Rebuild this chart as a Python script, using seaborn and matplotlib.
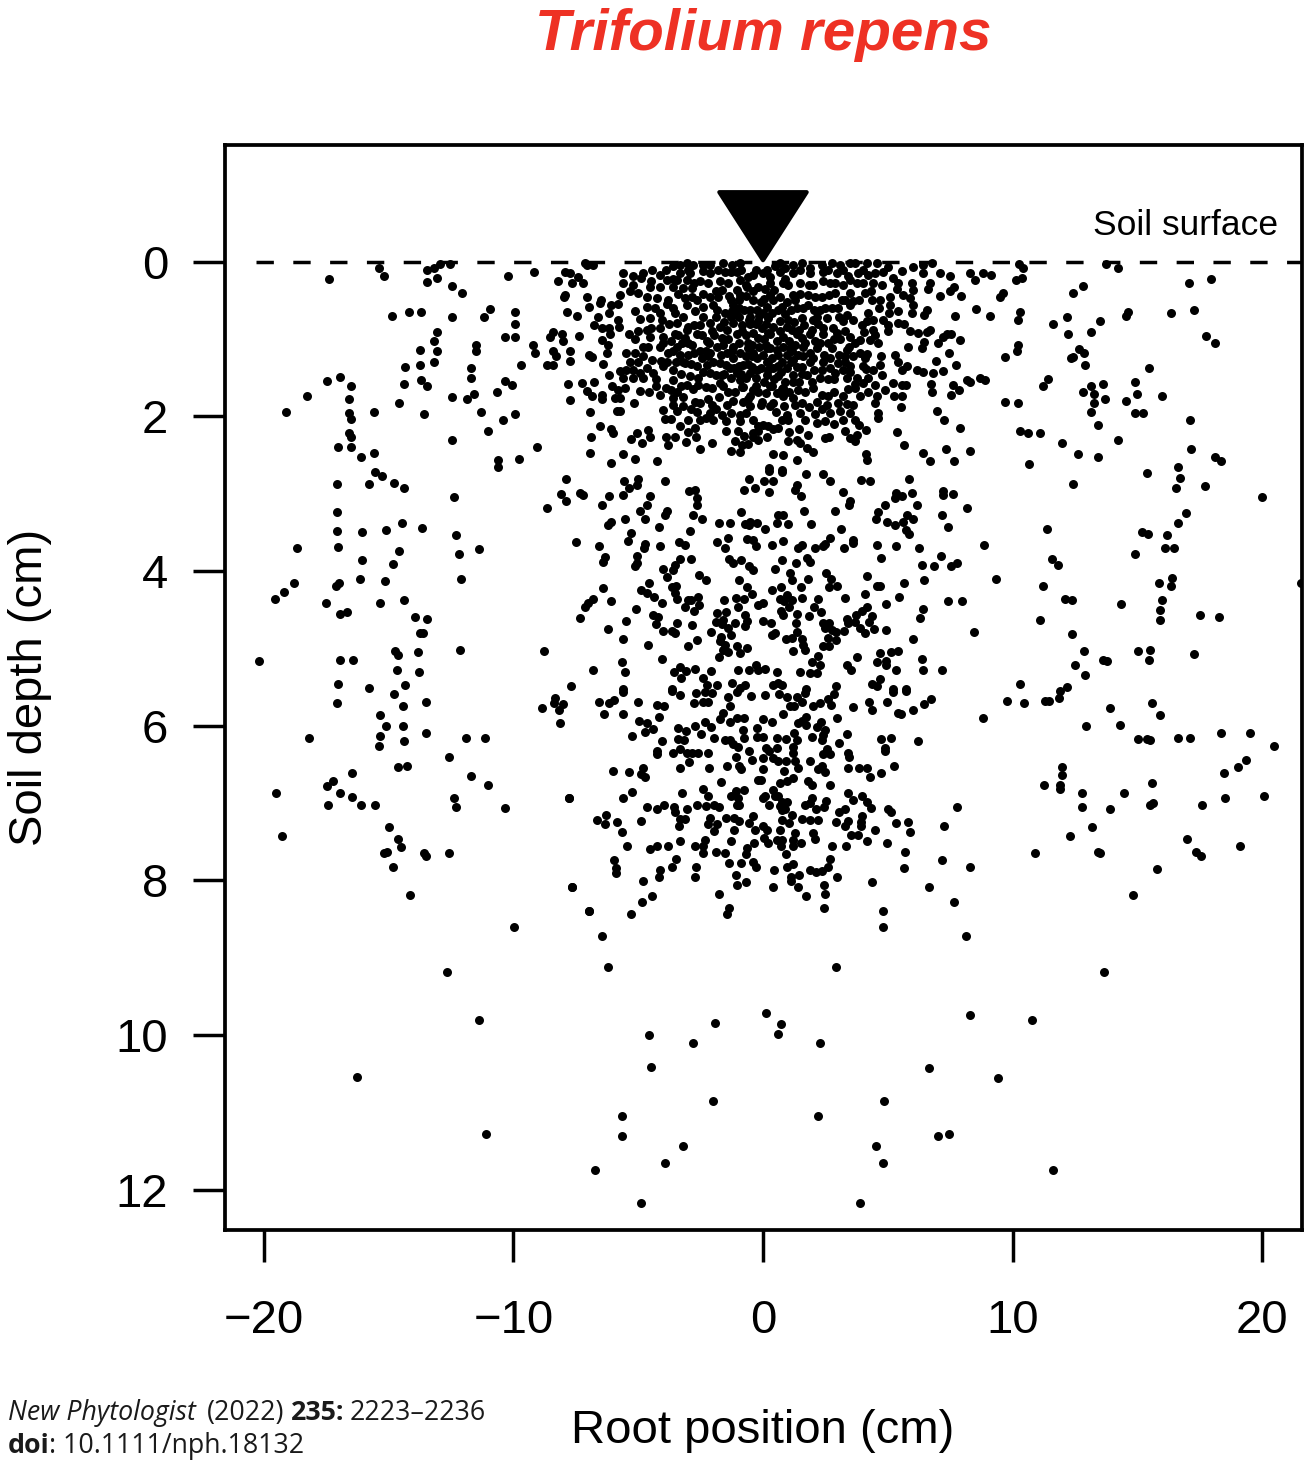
import pandas as pd
import seaborn as sns
import matplotlib.pyplot as plt

# all positions: (root position cm, soil depth cm)
upper_left = [(-7.07,0.04),(-6.80,0.04),(-3.60,0.06),(-3.33,0.04),(-3.06,0.02),(-2.79,0.04),(-2.39,0.04),(-2.13,0.04),(-1.59,0.02),(-1.26,0.04),(-0.92,0.02),(-7.14,0.02),
    (-7.94,0.13),(-7.74,0.15),(-5.60,0.15),(-4.80,0.15),(-4.46,0.10),(-4.13,0.17),(-3.33,0.15),(-2.93,0.15),(-2.13,0.15),(-1.53,0.13),(-1.06,0.13),(-0.39,0.17),(-7.40,0.20),(-8.21,0.25),(-7.67,0.27),(-7.23,0.27),(-5.60,0.28),(-5.20,0.19),(-4.87,0.21),(-3.86,0.23),(-3.46,0.23),(-3.06,0.23),(-2.53,0.25),(-1.73,0.25),(-0.92,0.23),
    (-4.53,0.32),(-4.13,0.32),(-3.60,0.32),(-3.19,0.34),(-2.86,0.34),(-1.66,0.36),(-1.06,0.36),(-0.66,0.32),(-5.73,0.43),(-5.33,0.38),(-5.0,0.41),(-4.66,0.45),(-4.26,0.47),(-3.80,0.49),(-7.94,0.43),(-7.98,0.46),(-7.06,0.45),(-6.51,0.49),(-3.13,0.47),(-2.66,0.49),(-2.13,0.45),(-0.92,0.43),
    (-6.98,0.59),(-6.53,0.53),(-6.11,0.56),(-5.80,0.55),(-7.84,0.65),(-7.46,0.70),(-6.16,0.66),(-5.13,0.64),(-4.33,0.60),(-3.60,0.60),(-3.06,0.56),(-2.73,0.64),(-2.0,0.56),(-1.26,0.64),(-1.53,0.66),(-1.06,0.69),(-0.52,0.62),(-4.13,0.66),(-3.53,0.66),(-0.52,0.71),
    (-6.60,0.72),(-5.81,0.75),(-6.76,0.82),(-6.47,0.85),(-6.16,0.85),(-5.77,0.84),(-4.91,0.74),(-4.53,0.73),(-4.06,0.75),(-3.46,0.79),(-2.99,0.84),(-2.53,0.82),(-2.13,0.79),(-1.73,0.84),(-1.19,0.79),(-0.52,0.81),(-4.66,0.88),(-4.13,0.86),(-0.19,0.77),
    (-8.41,0.91),(-8.54,0.97),(-8.06,0.94),(-8.03,1.02),(-7.38,0.96),(-6.47,1.01),(-6.13,0.94),(-5.36,0.93),(-5.13,1.0),(-4.53,0.97),(-4.0,0.97),(-3.53,0.94),(-3.13,0.99),(-2.66,0.94),(-2.26,1.03),(-1.66,0.99),(-1.06,0.94),(-0.59,1.05),(-6.20,1.07),(-4.13,1.10),(-4.80,1.10),(-3.46,1.10),(-2.86,1.07),(-1.19,1.10),(-1.86,1.10),
    (-8.41,1.16),(-8.30,1.22),(-7.74,1.16),(-7.74,1.28),(-6.96,1.20),(-6.87,1.23),(-6.27,1.18),(-5.49,1.18),(-5.13,1.18),(-4.80,1.22),(-3.80,1.18),(-3.33,1.20),(-2.53,1.16),(-2.13,1.18),(-1.46,1.18),(-0.92,1.18),(-0.39,1.18),(-8.65,1.33),(-8.41,1.33),(-6.40,1.32),(-5.33,1.29),(-4.46,1.27),(-3.86,1.29),(-3.13,1.31),(-2.66,1.35),(-2.26,1.33),(-1.73,1.31),(-1.33,1.38),(-0.79,1.33),
    (-5.73,1.41),(-6.17,1.46),(-5.60,1.50),(-5.20,1.40),(-4.93,1.44),(-4.66,1.38),(-4.0,1.35),(-3.60,1.40),(-2.93,1.48),(-2.59,1.50),(-2.13,1.44),(-1.66,1.46),(-1.06,1.44),(-0.52,1.44),(-5.20,1.50),(-4.80,1.50),(-3.60,1.53),(-3.06,1.59),(-2.59,1.59),(-1.73,1.57),(-0.92,1.53),
    (-7.83,1.58),(-7.27,1.57),(-6.76,1.55),(-6.07,1.60),(-5.80,1.66),(-5.53,1.63),(-7.07,1.67),(-6.87,1.73),(-6.47,1.72),(-4.93,1.67),(-4.58,1.68),(-4.28,1.61),(-3.89,1.63),(-4.12,1.72),(-3.46,1.68),(-2.06,1.63),(-1.59,1.61),(-1.12,1.68),(-0.39,1.66),(-0.52,1.74),(-7.74,1.79),(-6.47,1.78),(-5.93,1.76),(-5.73,1.76),(-3.60,1.76),
    (-5.16,1.82),(-3.60,1.85),(-3.19,1.87),(-2.73,1.81),(-2.53,1.82),(-2.06,1.85),(-1.46,1.85),(-0.79,1.81),(-6.92,1.94),(-5.87,1.93),(-5.73,1.93),(-4.02,1.92),(-3.46,1.93),(-2.66,1.94),(-2.13,1.96),(-1.66,1.98),(-0.92,1.98),(-0.52,1.87),
    (-3.93,2.03),(-3.70,2.03),(-2.99,2.04),(-2.53,2.04),(-2.02,2.05),(-0.92,2.06),(-0.39,2.04),(-3.33,2.13),(-2.73,2.15),(-6.53,2.13),(-6.11,2.16),(-6.03,2.22),(-5.03,2.22),(-4.62,2.18),(-1.49,2.19),(-0.99,2.19),(-0.39,2.22),(-0.19,2.19),
    (-6.90,2.26),(-5.27,2.29),(-4.53,2.26),(-3.89,2.26),(-3.53,2.27),(-2.70,2.26),(-1.12,2.32),(-4.84,2.34),(-3.80,2.37),(-3.09,2.33),(-2.03,2.34),(-0.39,2.26),(-0.86,2.37),
    (-6.94,2.47),(-5.61,2.48),(-2.53,2.42),(-1.28,2.45),(-0.91,2.46),(-5.13,2.55),(-4.25,2.57),(-6.11,2.60)]

upper_right = [(0.68,0.02),(1.22,0.04),(1.55,0.02),(2.35,0.04),(2.75,0.02),(3.09,0.04),(3.49,0.02),(3.69,0.02),(4.16,0.02),(4.56,0.02),(5.0,0.07),(6.0,0.07),(6.40,0.04),(6.76,0.01),(5.59,0.12),(6.43,0.14),(7.11,0.15),(8.28,0.14),(7.50,0.19),(7.67,0.32),(5.96,0.28),(6.03,0.36),(6.69,0.28),(6.63,0.35),(7.50,0.38),(7.11,0.44),(7.94,0.44),(8.52,0.61),(7.71,0.70),
    (0.15,0.10),(0.68,0.13),(1.22,0.15),(1.88,0.15),(2.42,0.13),(2.95,0.15),(3.42,0.19),(4.02,0.10),(4.22,0.17),(4.49,0.15),(4.82,0.13),(5.22,0.21),(5.42,0.28),(5.36,0.35),
    (0.28,0.28),(0.82,0.28),(1.48,0.28),(2.02,0.30),(2.69,0.28),(3.22,0.30),(3.75,0.28),(4.42,0.28),(4.76,0.30),(5.62,0.43),(5.89,0.47),(5.09,0.45),(4.69,0.49),(4.09,0.41),(4.33,0.38),
    (0.28,0.43),(0.68,0.45),(1.22,0.43),(1.82,0.43),(2.35,0.46),(2.89,0.41),(3.49,0.41),(3.15,0.49),(3.62,0.51),
    (0.15,0.58),(0.75,0.58),(1.35,0.60),(1.82,0.56),(2.28,0.62),(2.75,0.60),(3.35,0.69),(3.49,0.56),(5.09,0.56),(4.66,0.60),(5.42,0.64),(5.06,0.66),(6.03,0.56),(5.96,0.66),(6.56,0.62),(6.45,0.69),
    (0.21,0.73),(0.68,0.77),(1.15,0.88),(1.55,0.73),(2.02,0.75),(2.55,0.73),(3.22,0.77),(4.20,0.66),(4.16,0.77),(4.42,0.75),(4.80,0.75),(5.02,0.82),(5.42,0.79),(5.65,0.81),(4.42,0.88),(4.06,0.91),(5.02,0.90),(5.89,0.90),(6.23,0.92),(6.69,0.88),(6.56,0.91),
    (7.36,0.94),(7.20,0.97),(7.52,0.94),(7.90,1.01),(7.03,1.05),(6.45,1.04),(6.39,1.12),(5.81,1.10),(7.44,1.18),(6.93,1.28),(7.72,1.34),(7.23,1.41),
    (0.28,0.94),(0.82,0.97),(1.35,0.94),(1.88,0.94),(2.42,0.94),(2.95,0.92),(3.49,0.97),(3.89,1.01),(4.29,1.01),(4.62,1.05),
    (0.15,1.12),(0.55,1.14),(1.08,1.12),(1.62,1.10),(2.15,1.12),(2.75,1.12),(3.35,1.14),(3.89,1.18),(4.18,1.19),(3.29,1.22),
    (0.21,1.29),(0.75,1.29),(1.22,1.27),(1.88,1.29),(2.42,1.29),(3.02,1.31),(3.49,1.35),(4.13,1.39),(4.72,1.22),(4.69,1.33),(4.76,1.46),(5.29,1.20),(5.42,1.29),(5.56,1.40),(5.22,1.57),(5.76,1.35),(6.16,1.40),(6.43,1.42),(6.80,1.44),
    (0.15,1.46),(0.61,1.48),(1.22,1.46),(1.75,1.46),(2.28,1.50),(2.89,1.44),(3.75,1.50),(4.02,1.57),(4.49,1.59),(4.89,1.66),(5.72,1.59),(5.56,1.59),(6.72,1.58),(6.77,1.69),(7.60,1.59),(7.52,1.72),(7.87,1.66),(8.16,1.53),(8.30,1.55),(8.70,1.50),
    (0.28,1.61),(0.82,1.63),(1.42,1.66),(2.02,1.63),(2.62,1.74),(3.22,1.73),(3.69,1.63),(3.35,1.84),(3.89,1.74),(4.56,1.74),(4.49,1.82),(5.25,1.73),(5.56,1.73),(5.53,1.88),
    (-0.05,1.81),(0.41,1.82),(0.82,1.74),(1.22,1.76),(1.55,1.83),(2.15,1.81),(0.51,1.94),(0.95,1.98),(0.75,2.04),(1.48,1.96),(2.08,1.97),(2.35,1.91),(2.69,1.96),(3.09,1.93),(3.49,1.96),(3.22,2.04),(4.62,1.96),(4.62,2.02),
    (6.96,1.93),(7.26,2.04),(7.91,2.15),(5.36,2.20),(5.67,2.37),(6.43,2.47),(7.34,2.42),(8.31,2.45),(6.69,2.57),(7.67,2.57),
    (2.18,2.08),(2.49,2.06),(3.69,2.04),(3.86,2.11),(4.13,2.17),(3.29,2.19),(3.75,2.24),(3.69,2.32),(3.49,2.28),(2.49,2.28),(2.66,2.26),
    (0.01,2.11),(0.21,2.13),(0.41,2.16),(0.15,2.26),(1.06,2.20),(1.46,2.16),(1.35,2.30),(1.82,2.24),(1.48,2.34),(1.75,2.41),(2.02,2.46),
    (0.41,2.48),(0.82,2.50),(1.38,2.56),(4.13,2.48),(4.16,2.56),(0.25,2.67),(0.75,2.69)]

# the near solid core around the plant, estimated
core = [(-0.9,0.1),(-0.6,0.2),(-0.3,0.1),(0.0,0.15),(0.3,0.2),(0.5,0.05),(0.9,0.22),(-0.7,0.3),(-0.2,0.33),(0.1,0.35),(0.45,0.36),(-0.95,0.5),(-0.4,0.5),(-0.1,0.52),(0.05,0.48),(0.42,0.5),(0.95,0.52),(1.3,0.5),(-1.3,0.5),(-0.75,0.62),(-0.25,0.63),(0.0,0.66),(0.35,0.66),(0.9,0.68),(-0.85,0.82),(-0.3,0.8),(-0.05,0.85),(0.12,0.8),(0.4,0.84),(0.95,0.84),(1.25,0.78),(-0.7,0.95),(-0.2,0.98),(0.05,1.0),(0.55,1.02),(1.05,1.02),(-0.95,1.05),(-0.45,1.08),(-0.15,1.1),(0.3,1.12),(0.8,1.1),(1.3,1.08),(-0.7,1.22),(-0.25,1.24),(0.0,1.2),(0.38,1.24),(0.95,1.2),(-0.95,1.35),(-0.45,1.36),(-0.1,1.38),(0.4,1.38),(0.95,1.38),(1.35,1.36),(-0.7,1.5),(-0.3,1.5),(0.05,1.55),(0.45,1.52),(0.9,1.55),(-0.85,1.62),(-0.2,1.68),(0.12,1.7),(0.55,1.7),(1.05,1.68),(-0.6,1.78),(-0.1,1.85),(0.3,1.86),(0.85,1.86),
    (-3.9,0.1),(-3.0,0.1),(-2.4,0.12),(-1.8,0.1),(-1.3,0.13),(-3.6,0.22),(-2.75,0.27),(-2.2,0.28),(-1.4,0.28),(-4.5,0.25),(-5.2,0.3),(-3.4,0.42),(-2.4,0.42),(-1.8,0.46),(-1.35,0.44),(-0.7,0.44),(-4.65,0.58),(-3.85,0.55),(-2.4,0.58),(-1.85,0.62),(-0.95,0.6),(-4.5,0.85),(-3.75,0.8),(-3.2,0.72),(-2.4,0.72),(-1.55,0.78),(-0.95,0.72),(-5.0,0.9),(-4.0,1.05),(-3.7,1.02),(-3.0,1.05),(-2.45,0.95),(-1.95,0.95),(-1.4,1.0),(-4.6,1.1),(-3.6,1.16),(-3.0,1.2),(-2.3,1.15),(-1.7,1.2),(-1.2,1.25),(-5.0,1.3),(-4.1,1.28),(-3.5,1.3),(-2.9,1.32),(-2.0,1.3),(-1.5,1.33),(-0.6,1.32),(-5.5,1.4),(-4.4,1.44),(-3.3,1.45),(-2.4,1.42),(-1.9,1.47),(-1.3,1.5),(-0.9,1.45),(-4.3,1.52),(-3.3,1.6),(-2.8,1.65),(-2.3,1.62),(-1.4,1.68),(-0.8,1.62),(-3.7,1.66),(-3.2,1.75),(-2.2,1.78),(-1.75,1.75),(-1.2,1.8),(-2.9,1.9),(-1.9,1.9),(-1.3,1.95),(-2.3,2.02),(-1.5,2.06),(-0.7,1.95),(-3.0,2.2),(-0.75,2.25),(-0.2,2.12),(-0.6,2.36),
    (0.9,0.08),(1.5,0.1),(1.9,0.08),(2.6,0.1),(3.2,0.1),(3.8,0.15),(1.0,0.3),(1.85,0.3),(2.4,0.25),(2.9,0.27),(3.5,0.24),(4.0,0.28),(1.5,0.42),(2.1,0.45),(2.65,0.43),(3.3,0.5),(3.85,0.5),(4.35,0.5),(1.6,0.6),(2.05,0.62),(2.5,0.6),(3.0,0.6),(1.65,0.82),(2.2,0.8),(2.8,0.85),(3.6,0.75),(3.95,0.82),(4.5,0.95),(1.55,0.98),(2.1,1.02),(2.6,1.05),(3.1,1.0),(3.7,1.05),(1.4,1.2),(1.9,1.18),(2.45,1.2),(3.05,1.2),(3.6,1.22),(4.1,1.25),(1.55,1.36),(2.05,1.4),(2.7,1.38),(3.2,1.4),(4.0,1.35),(4.4,1.4),(1.45,1.55),(1.95,1.55),(2.6,1.52),(3.35,1.5),(3.7,1.58),(4.2,1.5),(1.7,1.68),(2.35,1.72),(2.85,1.68),(3.4,1.65),(4.2,1.68),(1.3,1.85),(1.85,1.88),(2.55,1.85),(3.0,1.82),(3.6,1.85),(1.0,2.05),(1.7,2.05),(2.85,2.1),(0.6,2.15),(1.0,2.32),(-0.2,2.3),
    (-0.55,0.75),(-0.15,0.7),(0.22,0.72),(0.62,0.62),(1.12,0.62),(-1.45,0.88),(-0.85,0.9),(-0.42,0.92),(0.2,0.92),(0.7,0.9),(1.45,0.88),(-1.6,1.08),(-0.6,1.12),(0.12,1.08),(0.6,1.2),(1.15,1.15),(1.7,1.05),(-2.2,1.22),(-0.45,1.22),(0.18,1.3),(0.62,1.35),(1.12,1.3),(1.6,1.22),(-1.15,1.38),(-0.25,1.4),(0.22,1.4),(0.72,1.42),(1.55,1.45),(-2.75,0.82),(-2.05,0.9),(-3.4,0.95),(-2.75,1.18),(-3.25,1.05),(-2.15,1.05),(-1.25,1.15),(-3.05,0.88),(-2.45,1.25),(-3.2,1.3),(-1.55,1.45),(-0.3,1.6),(0.35,1.6),(0.75,1.65),(1.2,1.55),(2.3,1.05),(2.85,1.0),(2.0,1.25),(2.7,1.25),(3.3,1.3),(2.35,1.4),(3.5,1.42),(2.85,1.52),(1.95,0.88),(2.4,0.85),(3.3,0.9),(3.45,1.1),(3.05,0.72),(2.15,0.72),(1.0,0.75),(-1.9,0.72),(-1.3,0.72),(-2.85,0.45),(-1.9,0.38),(-1.2,0.56),(-0.4,0.38)]

middle_left = [(-7.88,2.81),(-8.11,3.0),(-7.91,3.09),(-7.34,2.99),(-7.23,3.01),(-8.65,3.19),(-5.56,2.84),(-5.01,2.81),(-5.36,2.92),(-5.05,2.89),(-5.63,3.01),(-6.19,3.03),(-6.44,3.14),(-4.53,3.03),(-4.64,3.14),(-4.93,3.22),(-4.72,3.32),(-5.52,3.32),(-6.08,3.37),(-6.21,3.41),(-3.93,2.84),(-2.95,2.96),(-2.73,2.95),(-2.66,3.06),(-2.63,3.14),(-3.84,3.22),(-3.93,3.27),(-2.81,3.28),(-2.46,3.33),(-4.16,3.43),(-2.93,3.48),(-5.27,3.51),(-5.43,3.61),(-7.48,3.63),(-6.59,3.67),(-4.74,3.65),(-4.77,3.70),(-4.13,3.67),(-3.38,3.62),(-3.13,3.66),(-6.33,3.82),(-6.40,3.88),(-5.04,3.81),(-5.04,3.90),(-5.12,3.94),(-3.33,3.84),(-2.87,3.84),(-3.53,3.92),(-3.60,3.99),(-4.01,3.97),(-3.86,4.08),(-2.58,4.05),(-2.30,4.12),(-1.83,3.62),(-1.41,3.57),(-1.54,3.70),(-1.75,3.38),(-1.31,3.38),(-0.88,3.24),(-0.56,2.81),(-0.78,2.95),(-0.32,2.92),(-0.72,3.39),(-0.52,3.36),(-0.26,3.38),(-0.56,3.40),(-0.63,3.59),(-0.39,3.60),(-0.28,3.67),(-1.35,3.84),(-1.22,3.90),(-0.88,3.85),(-0.55,3.94),(-0.39,3.98),(-0.96,4.12),
    (-6.43,4.22),(-6.83,4.36),(-7.0,4.41),(-7.12,4.46),(-6.11,4.39),(-4.56,4.16),(-4.87,4.24),(-4.64,4.28),(-4.37,4.33),(-4.04,4.41),(-5.07,4.49),(-3.66,4.20),(-3.50,4.19),(-3.53,4.28),(-3.44,4.36),(-3.02,4.37),(-2.90,4.38),(-2.59,4.33),(-2.55,4.44),(-3.14,4.47),(-2.78,4.51),(-1.57,4.37),(-1.10,4.35),(-0.76,4.36),(-0.46,4.30),(-0.63,4.20),(-0.99,4.46),(-0.19,4.44),(-1.85,4.54),(-1.49,4.53),(-7.32,4.61),(-4.42,4.57),(-4.20,4.59),(-4.29,4.68),(-5.49,4.65),(-6.21,4.75),(-3.45,4.67),(-2.86,4.70),(-0.72,4.57),(-0.66,4.65),(-0.72,4.71),(-1.11,4.67),(-1.87,4.66),(-1.62,4.63),(-1.66,4.69),(-1.42,4.74),(-1.30,4.82),(-1.69,4.85),(-2.10,4.79),(-4.02,4.77),(-3.65,4.78),(-3.53,4.80),(-5.63,4.88),(-4.61,4.95),(-3.01,4.97),(-2.66,4.89),(-1.73,4.90),(-1.53,4.95),(-1.62,5.02),(-1.39,5.04),(-1.77,5.11),(-1.03,4.97),(-0.66,5.0),(-0.92,5.06),(-8.78,5.03),(-5.67,5.17),(-4.04,5.14),(-6.83,5.28),(-5.52,5.31),(-3.56,5.30),(-3.33,5.24),(-3.10,5.29),(-2.73,5.27),(-3.30,5.38),(-2.10,5.29),(-1.0,5.28),(-0.56,5.28),(-0.28,5.21),(-0.19,5.28),(-7.70,5.48),(-2.39,5.38),(-2.26,5.47),(-1.86,5.47),(-1.26,5.45),(-0.72,5.47),(-0.92,5.51),(-3.66,5.52),(-5.60,5.53)]

middle_right = [(0.25,2.70),(0.75,2.72),(0.03,2.83),(0.41,2.83),(1.72,2.75),(2.39,2.75),(2.70,2.84),(3.91,2.82),(4.29,2.83),(5.87,2.81),(1.36,2.89),(1.30,2.95),(1.51,3.03),(0.23,2.98),(3.22,2.98),(3.49,3.09),(3.43,3.15),(5.33,2.99),(5.29,3.06),(5.59,3.03),(5.96,2.99),(4.88,3.14),(6.19,3.14),(7.20,2.97),(7.23,3.02),(7.62,3.0),(8.16,3.19),(7.16,3.27),(7.41,3.43),(1.63,3.22),(2.89,3.22),(0.61,3.27),(0.82,3.28),(0.55,3.38),(1.02,3.39),(1.91,3.39),(0.07,3.46),(4.62,3.23),(4.52,3.33),(4.98,3.37),(5.28,3.41),(5.76,3.27),(5.62,3.36),(6.0,3.32),(5.73,3.47),(5.84,3.52),(3.13,3.46),(0.36,3.66),(0.80,3.61),(1.55,3.66),(1.42,3.70),(2.10,3.70),(2.69,3.57),(2.49,3.65),(2.42,3.68),(3.25,3.70),(3.62,3.60),(3.62,3.64),(4.58,3.66),(5.33,3.67),(6.27,3.70),(4.74,3.83),(7.15,3.81),(0.78,3.85),(0.47,3.97),(1.34,3.90),(1.75,3.83),(1.88,3.88),(6.36,3.92),(6.87,3.94),(7.76,3.90),(7.54,3.94),
    (1.08,4.03),(1.16,4.12),(1.79,4.10),(2.54,4.03),(2.71,4.10),(2.95,4.19),(2.66,4.21),(4.16,4.06),(4.56,4.19),(4.69,4.19),(5.64,4.16),(6.45,4.12),(0.36,4.24),(0.72,4.20),(1.51,4.20),(-0.01,4.41),(0.95,4.31),(0.68,4.36),(1.16,4.37),(0.84,4.39),(1.06,4.46),(1.58,4.35),(2.22,4.36),(2.04,4.46),(2.31,4.53),(1.84,4.58),(3.30,4.35),(4.09,4.29),(5.45,4.33),(4.93,4.42),(7.43,4.39),(7.98,4.39),(6.43,4.49),(6.29,4.61),(0.71,4.52),(0.79,4.57),(1.35,4.56),(1.31,4.67),(-0.01,4.65),(0.32,4.67),(4.18,4.47),(3.95,4.52),(3.73,4.57),(4.37,4.58),(4.26,4.66),(3.38,4.62),(3.42,4.67),(3.69,4.66),(3.89,4.74),(4.09,4.80),(4.45,4.75),(4.93,4.76),(8.46,4.79),(6.03,4.88),(2.42,4.67),(2.66,4.67),(2.49,4.74),(2.93,4.79),(2.75,4.76),(3.26,4.78),(2.62,4.87),(2.93,4.89),(2.65,4.97),(2.42,4.97),(1.38,4.79),(1.15,4.86),(0.92,4.88),(1.55,4.88),(1.62,4.95),(1.68,5.02),(0.48,4.80),(0.35,4.82),(1.19,5.03),(2.22,5.10),(1.95,5.18),(2.28,5.22),(3.77,5.11),(4.69,5.06),(4.56,5.18),(4.93,5.16),(4.93,5.22),(5.12,5.04),(5.40,5.03),(6.37,5.14),(3.38,5.21),(3.51,5.28),(5.32,5.28),(6.43,5.28),(7.17,5.28),(0.07,5.26),(0.57,5.31),(1.50,5.30),(1.88,5.32),(2.15,5.32),(4.70,5.39),(4.38,5.46),(4.56,5.48),(0.41,5.47),(0.61,5.45),(0.75,5.47),(2.94,5.49),(1.71,5.53),(5.22,5.53),(5.73,5.52)]

lower_left = [(-8.34,5.64),(-8.38,5.71),(-8.0,5.72),(-8.17,5.79),(-8.86,5.77),(-8.13,5.97),(-6.56,5.69),(-6.17,5.70),(-5.97,5.67),(-6.39,5.85),(-5.61,5.85),(-5.0,5.69),(-5.60,5.56),(-4.26,5.73),(-3.97,5.74),(-4.16,5.89),(-4.97,5.94),(-4.64,5.96),(-4.42,6.04),(-4.74,6.08),(-5.23,6.13),(-4.06,6.20),(-4.24,6.33),(-4.26,6.36),(-3.66,5.55),(-3.33,5.60),(-2.70,5.57),(-2.33,5.56),(-2.03,5.58),(-2.75,5.70),(-2.39,5.69),(-2.19,5.69),(-1.39,5.63),(-1.06,5.56),(-0.50,5.62),(-1.32,5.75),(-1.62,5.84),(-1.71,5.91),(-1.32,5.95),(-1.03,5.90),(-0.76,5.90),(-3.42,6.03),(-3.10,6.07),(-2.71,6.0),(-2.33,5.95),(-2.10,6.02),(-2.50,6.10),(-0.79,6.05),(-0.76,6.16),(-0.25,6.03),(-0.23,6.14),(-3.42,6.17),(-3.17,6.18),(-1.97,6.16),(-1.53,6.18),(-1.32,6.18),(-1.22,6.23),(-0.99,6.28),(-3.60,6.35),(-3.34,6.30),(-3.06,6.35),(-2.86,6.35),(-2.59,6.35),(-2.21,6.35),(-0.56,6.33),(-1.10,6.40),(-0.44,6.44),(-2.98,6.47),(-3.34,6.55),(-2.18,6.54),(-1.46,6.52),(-0.96,6.52),(-0.88,6.56),(-6.0,6.59),(-5.39,6.60),(-4.80,6.54),(-4.87,6.62),(-4.73,6.66),(-1.67,6.73),(-0.19,6.70),(-5.24,6.85),(-5.61,6.94),(-7.76,6.94),(-3.26,6.87),(-2.39,6.82),(-2.19,6.91),(-0.76,6.83),(-1.08,6.84),(-1.28,6.91),(-0.99,6.94),(-0.95,7.02),(-1.06,7.03),(-4.66,7.05),(-4.24,7.08),(-3.97,7.02),(-3.56,7.05),(-3.54,7.12),(-3.05,7.07),(-2.63,7.03),(-2.27,7.04),(-1.97,7.03),(-1.77,7.05),(-6.66,7.22),(-6.31,7.16),(-6.35,7.27),(-5.84,7.24),(-5.65,7.37),(-4.88,7.23),(-3.11,7.21),(-3.33,7.21),(-3.38,7.29),(-2.11,7.19),(-2.21,7.27),(-1.85,7.27),(-1.98,7.36),(-1.50,7.19),(-1.15,7.19),(-0.96,7.23),(-1.16,7.35),(-0.42,7.17),(-0.55,7.26),(-0.32,7.35),(-5.44,7.56),(-4.54,7.59),(-4.25,7.56),(-3.80,7.55),(-3.34,7.49),(-2.74,7.55),(-2.31,7.48),(-2.42,7.56),(-2.39,7.65),(-1.89,7.63),(-1.53,7.65),(-1.30,7.49),(-0.36,7.52),(-0.66,7.58),(-0.70,7.66),(-5.99,7.74),(-5.89,7.84),(-5.88,7.90),(-3.50,7.72),(-3.66,7.82),(-4.13,7.86),(-4.16,7.96),(-2.69,7.82),(-2.73,7.96),(-1.38,7.77),(-0.88,7.77),(-0.39,7.76),(-0.28,7.82),(-1.10,7.93),(-1.06,8.06),(-0.67,8.02),(-7.66,8.09),(-4.81,8.01),(-4.46,8.20),(-4.83,8.28),(-1.78,8.18),(-6.99,8.40),(-5.29,8.44),(-1.37,8.35),(-1.45,8.44)]

lower_right = [(0.07,5.60),(0.65,5.59),(0.98,5.63),(1.35,5.63),(1.68,5.58),(1.55,5.69),(1.08,5.74),(1.24,5.74),(2.02,5.74),(2.28,5.70),(2.62,5.65),(2.85,5.59),(2.73,5.73),(3.59,5.76),(4.25,5.69),(4.37,5.80),(4.98,5.69),(5.20,5.56),(5.73,5.55),(6.75,5.65),(6.47,5.72),(6.01,5.79),(5.42,5.83),(5.52,5.85),(0.80,5.85),(2.98,5.90),(-0.01,5.91),(0.36,5.95),(1.72,5.88),(1.55,5.94),(1.42,5.97),(1.72,5.99),(2.32,5.95),(2.15,6.02),(2.49,6.06),(2.42,6.12),(2.35,6.18),(3.38,6.11),(3.06,6.22),(1.24,6.09),(1.35,6.18),(0.01,6.15),(0.56,6.16),(0.92,6.17),(1.95,6.15),(4.73,6.17),(5.12,6.16),(4.89,6.29),(4.90,6.33),(6.20,6.20),(0.12,6.29),(0.25,6.33),(0.57,6.29),(1.22,6.27),(1.19,6.35),(2.55,6.30),(2.42,6.36),(2.69,6.36),(3.42,6.35),(3.46,6.41),(-0.01,6.42),(0.41,6.42),(0.61,6.45),(0.92,6.46),(1.28,6.45),(1.90,6.45),(5.25,6.52),(-0.01,6.56),(0.83,6.59),(1.40,6.55),(2.35,6.52),(2.22,6.56),(2.50,6.60),(3.42,6.54),(3.86,6.55),(4.18,6.55),(4.29,6.66),(4.73,6.61),(1.22,6.68),(0.95,6.71),(0.68,6.74),(1.82,6.71),(1.98,6.76),(2.69,6.76),(-0.08,6.70),(0.41,6.83),(0.61,6.91),(0.48,6.91),(0.08,6.91),(-0.01,6.94),(0.75,6.98),(0.95,6.98),(0.25,7.03),(0.68,7.04),(0.88,7.07),(0.75,7.09),(1.68,7.03),(1.95,6.94),(1.88,7.0),(2.11,7.07),(2.53,6.97),(2.46,7.05),(3.41,6.87),(3.61,6.96),(3.95,6.91),(4.16,6.99),(4.34,7.06),(5.02,7.07),(5.13,7.12),(7.76,7.05),(3.29,7.07),(3.06,7.11),(1.15,7.16),(0.78,7.22),(1.06,7.26),(1.55,7.21),(1.88,7.22),(2.22,7.22),(2.93,7.24),(3.42,7.23),(3.29,7.29),(3.98,7.17),(3.93,7.24),(3.91,7.30),(5.33,7.26),(5.81,7.25),(5.88,7.37),(7.25,7.30),(4.49,7.35),(3.53,7.41),(3.81,7.41),(4.17,7.49),(3.31,7.55),(4.98,7.51),(-0.01,7.30),(0.15,7.35),(0.70,7.35),(1.28,7.38),(1.99,7.38),(2.08,7.46),(0.04,7.45),(0.21,7.52),(0.55,7.48),(0.78,7.48),(0.71,7.56),(1.22,7.48),(1.22,7.55),(1.54,7.51),(2.75,7.56),(0.94,7.66),(5.69,7.63),(2.67,7.72),(2.62,7.83),(2.35,7.88),(2.12,7.89),(1.88,7.86),(1.22,7.79),(0.95,7.83),(0.44,7.87),(1.43,7.93),(1.11,7.96),(1.12,8.01),(1.40,8.08),(0.39,8.08),(2.95,7.96),(2.46,8.06),(2.49,8.18),(1.71,8.20),(4.37,8.02),(5.64,7.84),(7.16,7.74),(8.30,7.83),(6.67,8.09),(7.67,8.28),(2.45,8.36),(4.81,8.40),(4.81,8.60),(8.14,8.72),(8.82,5.90),(9.34,4.10),(8.86,3.66)]

far_left = [(-17.4,0.22),(-15.4,0.08),(-15.2,0.18),(-14.87,0.70),(-13.7,0.65),(-13.47,0.10),(-13.19,0.08),(-12.95,0.03),(-12.55,0.03),(-13.47,0.26),(-13.07,0.21),(-12.47,0.31),(-12.06,0.41),(-12.47,0.72),(-14.19,0.65),(-13.07,0.91),(-10.22,0.18),(-9.18,0.13),(-10.94,0.61),(-11.18,0.72),(-9.94,0.65),(-9.94,0.80),(-9.94,0.97),(-10.34,0.97),(-11.5,1.07),(-11.5,1.16),(-13.2,1.03),(-13.75,1.14),(-13.07,1.16),(-13.2,1.29),(-13.75,1.34),(-14.35,1.36),(-11.7,1.37),(-11.7,1.5),(-9.2,1.07),(-9.14,1.18),(-9.7,1.33),(-17.47,1.54),(-16.95,1.49),(-16.5,1.6),(-16.6,1.78),(-16.6,1.95),(-18.28,1.73),(-19.1,1.94),(-15.6,1.94),(-14.6,1.82),(-14.4,1.58),(-13.7,1.53),(-13.47,1.6),(-13.6,1.97),(-12.47,1.75),(-11.86,1.77),(-11.58,1.71),(-11.3,1.94),(-10.66,1.69),(-10.34,1.54),(-10.06,1.59),(-9.94,1.97),(-10.42,2.04),(-11.02,2.19),(-12.47,2.31),(-16.5,2.03),(-16.5,2.26),(-16.6,2.21),(-17.03,2.4),(-16.5,2.39),(-16.1,2.53),(-15.6,2.47),(-15.55,2.72),(-15.8,2.88),(-15.27,2.77),(-14.8,2.86),(-14.4,2.92),(-17.07,2.88),(-10.62,2.56),(-10.62,2.65),(-9.78,2.55),(-9.06,2.4),(-12.39,3.04),
    (-17.07,3.23),(-17.07,3.48),(-16.07,3.49),(-15.11,3.47),(-14.47,3.38),(-13.67,3.44),(-12.3,3.53),(-12.18,3.78),(-11.38,3.71),(-14.59,3.74),(-18.68,3.7),(-17.03,3.69),(-16.07,3.85),(-14.83,3.91),(-16.99,4.16),(-17.11,4.19),(-16.15,4.1),(-15.15,4.13),(-18.8,4.16),(-19.2,4.27),(-19.56,4.36),(-12.1,4.1),(-17.52,4.41),(-15.35,4.41),(-14.39,4.37),(-16.95,4.56),(-16.67,4.53),(-13.95,4.59),(-13.47,4.62),(-13.75,4.8),(-13.62,4.8),(-13.83,5.04),(-14.75,5.03),(-14.63,5.09),(-12.14,5.02),(-20.2,5.16),(-16.95,5.15),(-16.43,5.15),
    (-14.67,5.28),(-13.79,5.3),(-17.03,5.46),(-15.79,5.51),(-14.35,5.47),(-14.79,5.59),(-13.51,5.69),(-17.07,5.7),(-15.35,5.86),(-14.43,5.75),(-15.11,6.0),(-15.35,6.13),(-14.43,6.0),(-14.39,6.2),(-13.51,6.09),(-15.39,6.26),(-18.2,6.16),(-11.9,6.16),(-11.14,6.16),(-12.59,6.4),(-14.63,6.53),(-14.27,6.52),(-16.47,6.61),(-17.47,6.78),(-17.23,6.72),(-16.95,6.87),(-17.43,7.03),(-16.47,6.92),(-16.11,7.03),(-15.55,7.03),(-19.52,6.87),(-11.7,6.65),(-11.02,6.76),(-12.39,6.94),(-12.3,7.05),(-10.34,7.06),(-7.78,6.93),(-19.28,7.42),(-14.99,7.31),(-14.63,7.46),(-14.51,7.57),(-15.19,7.64),(-15.07,7.63),(-14.83,7.82),(-13.59,7.64),(-13.51,7.68),(-12.59,7.64),(-14.15,8.19),(-7.66,8.08),(-6.97,8.39),(-6.45,8.72),(-9.98,8.6),(-6.21,9.12),(-12.67,9.19),(-11.38,9.8),(-16.27,10.54),(-11.1,11.28)]

far_right = [(8.82,0.14),(9.14,0.17),(9.5,0.45),(9.62,0.41),(8.5,0.23),(10.26,0.03),(10.42,0.08),(10.14,0.23),(10.38,0.21),(13.75,0.03),(14.23,0.08),(12.83,0.31),(12.42,0.4),(17.07,0.27),(17.96,0.22),(10.3,0.65),(10.22,0.75),(9.1,0.7),(14.63,0.65),(14.55,0.7),(16.35,0.66),(17.27,0.63),(12.18,0.72),(11.62,0.8),(13.51,0.76),(13.15,0.91),(12.22,0.94),(17.76,0.96),(18.12,1.05),(10.22,1.07),(10.18,1.16),(9.7,1.23),(12.67,1.13),(12.34,1.24),(12.87,1.18),(12.42,1.23),(11.42,1.51),(11.22,1.6),(12.91,1.33),(13.15,1.6),(13.63,1.58),(13.27,1.71),(14.91,1.56),(15.47,1.37),(14.99,1.71),(16.0,1.73),(14.55,1.8),(14.91,1.95),(15.23,1.95),(13.27,1.82),(12.83,1.68),(13.71,1.78),(13.15,1.94),(10.22,1.82),(9.7,1.81),(8.9,1.53),(17.11,2.04),(13.43,2.11),(14.23,2.3),(10.3,2.19),(10.62,2.22),(11.1,2.22),(11.98,2.34),(17.15,2.42),(12.63,2.48),(13.43,2.53),(18.12,2.53),(18.36,2.57),(10.66,2.61),(16.63,2.66),(15.39,2.73),(16.71,2.79),(16.55,2.92),(17.72,2.9),(12.42,2.87),(20.0,3.04),
    (16.95,3.25),(16.63,3.38),(11.38,3.45),(15.19,3.49),(15.43,3.52),(16.19,3.53),(16.11,3.7),(16.47,3.7),(14.91,3.78),(11.58,3.84),(11.82,3.92),(21.56,4.15),(11.22,4.19),(15.87,4.16),(16.39,4.09),(16.35,4.19),(12.1,4.36),(12.38,4.37),(14.35,4.42),(16.0,4.38),(15.91,4.5),(15.91,4.63),(17.52,4.57),(18.28,4.59),(11.1,4.63),(12.38,4.81),(15.03,5.03),(15.51,5.02),(12.87,5.03),(17.27,5.07),(15.47,5.15),(13.63,5.15),(13.79,5.16),(12.5,5.21),(12.91,5.34),(10.3,5.46),(9.78,5.68),(10.46,5.7),(11.3,5.68),(11.46,5.68),(11.86,5.64),(12.18,5.5),(11.9,5.55),(13.91,5.77),(15.59,5.7),(15.91,5.86),(14.31,5.99),(12.95,6.0),(15.03,6.17),(15.39,6.17),(15.51,6.19),(16.63,6.16),(17.11,6.16),(18.36,6.09),(19.52,6.09),(20.48,6.26),(19.36,6.44),(19.04,6.53),(18.48,6.61),(11.98,6.53),(11.98,6.63),(11.26,6.76),(11.9,6.76),(11.9,6.82),(15.59,6.74),(14.47,6.87),(12.79,6.87),(12.79,7.05),(13.91,7.07),(15.51,7.03),(15.63,7.0),(17.6,7.03),(18.52,6.93),(20.08,6.91),(13.19,7.31),(12.3,7.42),(16.99,7.46),(19.12,7.55),(10.9,7.64),(13.43,7.63),(13.51,7.64),(17.35,7.63),(17.56,7.68),(15.79,7.85),(14.83,8.19)]

deep = [(2.93,9.12),(-4.57,10.0),(-2.81,10.1),(-1.92,9.84),(0.12,9.72),(0.72,9.85),(0.6,9.98),(2.28,10.1),(-4.49,10.41),(-2.0,10.85),(-5.65,11.04),(-5.65,11.3),(-3.21,11.43),(-3.93,11.66),(-6.73,11.74),(-4.89,12.17),(2.2,11.04),(4.85,10.85),(4.53,11.43),(4.81,11.66),(3.89,12.17),(6.65,10.42),(8.3,9.74),(10.78,9.8),(9.42,10.55),(7.01,11.31),(7.45,11.28),(11.62,11.74),(13.67,9.19)]

x_ticks = [-20, -10, 0, 10, 20]
y_ticks = [0, 2, 4, 6, 8, 10, 12]
plant_x = [-1.75, 1.75, 0]
plant_y = [-0.9, -0.9, -0.02]

W, H = 1310, 1460


def fx(px):
    return px / W


def fy(py):
    return 1 - py / H


sns.set_style("ticks")
plt.rcParams["font.family"] = ["Liberation Sans", "DejaVu Sans"]

roots = pd.DataFrame(upper_left + upper_right + core + middle_left + middle_right
                     + lower_left + lower_right + far_left + far_right + deep,
                     columns=["position", "depth"])

fig = plt.figure(figsize=(W / 100, H / 100), dpi=100)
ax = fig.add_axes([fx(225), fy(1230), (1302 - 225) / W, (1230 - 145) / H])

sns.scatterplot(data=roots, x="position", y="depth", color="black", s=42,
                linewidth=0, ax=ax, legend=False, zorder=3)

ax.plot([-20.3, 21.6], [0, 0], color="black", lw=2.5, dashes=(5.0, 5.6),
        dash_capstyle="butt", zorder=2)
ax.fill(plant_x, plant_y, color="black", lw=3, joinstyle="round", zorder=4)

ax.set_xlim(-21.56, 21.6)
ax.set_ylim(12.52, -1.51)
ax.set_xticks(x_ticks)
ax.set_xticklabels([str(t).replace("-", "\u2212") for t in x_ticks])
ax.set_yticks(y_ticks)
ax.tick_params(axis="both", length=23, width=2.5, labelsize=34, color="black", labelcolor="black")
ax.tick_params(axis="x", pad=27)
ax.tick_params(axis="y", pad=18)
for spine in ax.spines.values():
    spine.set_visible(True)
    spine.set_linewidth(2.7)
    spine.set_color("black")
ax.set_xlabel("")
ax.set_ylabel("")

ax.text(20.65, -0.47, "Soil surface", fontsize=25.5, ha="right", va="center", color="black")

fig.text(fx(763), fy(35), "Trifolium repens", color="#EE3124", fontsize=42,
         fontweight="bold", fontstyle="italic", ha="center", va="center")
fig.text(fx(763), fy(1431), "Root position (cm)", fontsize=34, ha="center", va="center", color="black")
fig.text(fx(30), fy(687), "Soil depth (cm)", fontsize=34, rotation=90, ha="center", va="center", color="black")

cite = {"family": "Open Sans", "fontsize": 19.3, "color": "#1a1a1a", "va": "center"}
fig.text(fx(8), fy(1413), "New Phytologist", fontstyle="italic", **cite)
fig.text(fx(207), fy(1413), "(2022)", **cite)
fig.text(fx(291), fy(1413), "235:", fontweight="bold", **cite)
fig.text(fx(350), fy(1413), "2223\u20132236", **cite)
fig.text(fx(8), fy(1446), "doi", fontweight="bold", **cite)
fig.text(fx(49), fy(1446), ": 10.1111/nph.18132", **cite)

fig.savefig("out.png", dpi=100)
